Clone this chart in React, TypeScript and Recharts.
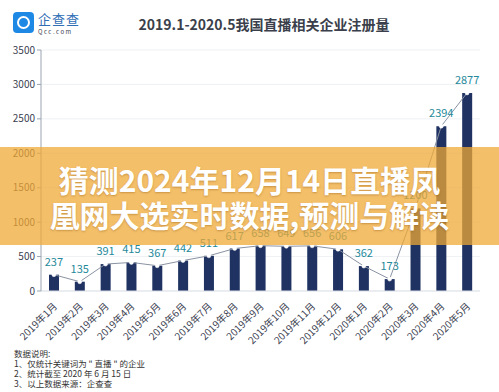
import { ComposedChart, Bar, Line, XAxis, YAxis, CartesianGrid, LabelList } from 'recharts';

const months = [
  '2019年1月', '2019年2月', '2019年3月', '2019年4月', '2019年5月', '2019年6月',
  '2019年7月', '2019年8月', '2019年9月', '2019年10月', '2019年11月', '2019年12月',
  '2020年1月', '2020年2月', '2020年3月', '2020年4月', '2020年5月',
];
const registrations = [237, 135, 391, 415, 367, 442, 511, 617, 658, 649, 656, 606, 362, 173, 1200, 2394, 2877];
const yTicks = [0, 500, 1000, 1500, 2000, 2500, 3000, 3500];
const notes = ['数据说明:', '1、仅统计关键词为 " 直播 " 的企业', '2、统计截至 2020 年 6 月 15 日', '3、以上数据来源：企查查'];

const data = months.map((m, i) => ({ month: m, value: registrations[i] }));

const FONT = '"Noto Sans CJK SC", "Noto Sans", sans-serif';

function MonthTick({ x, y, payload }: any) {
  return (
    <text x={x + 4} y={y + 8} textAnchor="end" fontSize={10} fill="#3b4150" fontFamily={FONT}
      transform={`rotate(-45 ${x + 4} ${y + 8})`}>
      {payload.value}
    </text>
  );
}

export default function App() {
  return (
    <div style={{ position: 'relative', width: 499, height: 392, background: '#fff', fontFamily: FONT, overflow: 'hidden' }}>
      <style>{'body{margin:0}'}</style>
      {/* logo */}
      <div style={{ position: 'absolute', left: 13, top: 12, width: 21, height: 21, borderRadius: 4, background: '#1e88e5' }}>
        <div style={{ position: 'absolute', left: 4, top: 4, width: 9, height: 9, border: '2px solid #fff', borderRadius: '50%' }} />
      </div>
      <div style={{ position: 'absolute', left: 38, top: 9, fontSize: 13, color: '#2f6db5', letterSpacing: 1 }}>企查查</div>
      <div style={{ position: 'absolute', left: 38, top: 27, fontSize: 6, color: '#3b4150', letterSpacing: 1.5 }}>Qcc.com</div>
      <div style={{ position: 'absolute', left: 0, width: 528, top: 14, textAlign: 'center', fontSize: 14, fontWeight: 700, color: '#3a3f4b' }}>
        2019.1-2020.5我国直播相关企业注册量
      </div>

      <div style={{ position: 'absolute', left: 0, top: 0 }}>
        <ComposedChart width={499} height={392} data={data} margin={{ top: 50, right: 19, bottom: 41, left: 0 }}>
          <CartesianGrid vertical={false} stroke="#eef1f5" />
          <XAxis dataKey="month" interval={0} height={60} tick={<MonthTick />} tickLine={false}
            axisLine={{ stroke: '#dde1e7' }} />
          <YAxis width={41} domain={[0, 3500]} ticks={yTicks} tick={{ fontSize: 10, fill: '#3b4150', fontFamily: FONT }}
            axisLine={{ stroke: '#9aa3b0' }} tickLine={{ stroke: '#9aa3b0' }} tickSize={4} />
          <Bar dataKey="value" fill="#1f3262" barSize={10} isAnimationActive={false} />
          <Line dataKey="value" type="linear" stroke="#8a93a3" strokeWidth={1} isAnimationActive={false}
            dot={{ r: 2, fill: '#fff', stroke: '#fff', strokeWidth: 0.5 }}>
            <LabelList dataKey="value" position="top" offset={9} fontSize={11} fill="#25899a" fontFamily={FONT} />
          </Line>
        </ComposedChart>
      </div>

      {/* notes */}
      <div style={{ position: 'absolute', left: 14, top: 348, fontSize: 8.5, lineHeight: '10px', color: '#333' }}>
        {notes.map((n) => <div key={n}>{n}</div>)}
      </div>

      {/* overlay banner */}
      <div style={{ position: 'absolute', left: 0, top: 147, width: 499, height: 98, background: 'rgba(240,168,52,0.74)' }} />
      <div style={{ position: 'absolute', left: 0, top: 162, width: 499, textAlign: 'center', fontSize: 30, lineHeight: '35px',
        fontWeight: 700, color: '#fff', textShadow: '0 1px 2px rgba(120,70,0,0.35)' }}>
        <div>猜测2024年12月14日直播凤</div>
        <div>凰网大选实时数据,预测与解读</div>
      </div>
    </div>
  );
}
